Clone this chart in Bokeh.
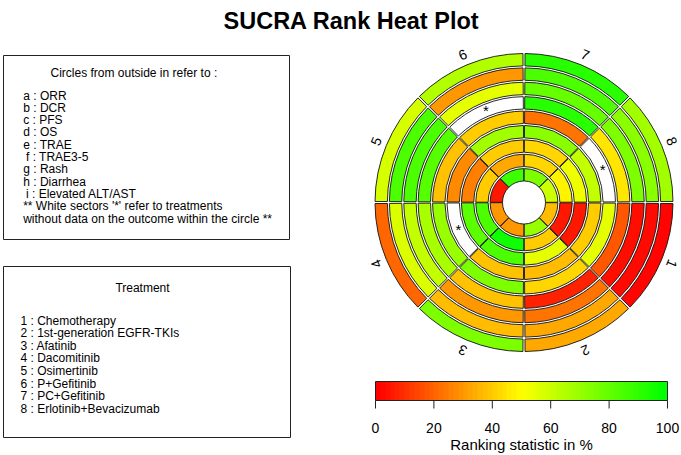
import numpy as np
from bokeh.plotting import figure
from bokeh.models import Range1d, LinearColorMapper, ColumnDataSource
from bokeh.core.properties import value
from bokeh.embed import file_html
from bokeh.resources import INLINE

nan = float("nan")

title_text = "SUCRA Rank Heat Plot"
treatment_ids = ["1", "2", "3", "4", "5", "6", "7", "8"]
treatment_names = ["Chemotherapy", "1st-generation EGFR-TKIs", "Afatinib", "Dacomitinib",
                   "Osimertinib", "P+Gefitinib", "PC+Gefitinib", "Erlotinib+Bevacizumab"]
outcome_letters = ["a", "b", "c", "d", "e", "f", "g", "h", "i"]
outcome_names = ["ORR", "DCR", "PFS", "OS", "TRAE", "TRAE3-5", "Rash", "Diarrhea", "Elevated ALT/AST"]

# SUCRA (%) for treatments 1..8 in each ring (a = outermost ... i = innermost); nan = no data
sucra_a = [1, 33, 75, 20, 58, 65, 92, 68]
sucra_b = [2, 33, 37, 57, 85, 30, 85, 73]
sucra_c = [3, 23, 30, 62, 85, 55, 80, 75]
sucra_d = [17, 7, 38, 67, 83, nan, 92, 45]
sucra_e = [55, 42, 75, 70, 38, 40, 23, nan]
sucra_f = [40, 37, 38, nan, 27, 68, 73, 62]
sucra_g = [5, 55, 85, 82, 25, 40, 42, 53]
sucra_h = [5, 40, 97, 85, 40, 33, 42, 48]
sucra_i = [37, 70, 30, 30, 5, 88, 75, 60]
rings = [sucra_a, sucra_b, sucra_c, sucra_d, sucra_e, sucra_f, sucra_g, sucra_h, sucra_i]

colorbar_ticks = [0, 20, 40, 60, 80, 100]
colorbar_values = np.linspace(0, 100, 60)

# ---- palette red -> yellow -> green
def ramp(n):
    out = []
    for t in np.linspace(0, 1, n):
        if t <= 0.5:
            r, g, b = 255, int(round(255 * t / 0.5)), 0
        else:
            r, g, b = int(round(255 * (1 - t) / 0.5)), 255, 0
        out.append("#%02x%02x%02x" % (r, g, b))
    return out

pal = ramp(256)
mapper = LinearColorMapper(palette=pal, low=0, high=100, nan_color="white")

W, H = 681, 455
def Y(v):
    return H - v

FONT = value("Liberation Sans")

p = figure(width=W, height=H, x_range=Range1d(0, W), y_range=Range1d(0, H),
           output_backend="svg", toolbar_location=None, min_border=0)
p.axis.visible = False
p.grid.visible = False
p.outline_line_color = None
p.background_fill_color = "white"
p.border_fill_color = "white"

# ---- title
p.text(x=[351], y=[Y(20.5)], text=[title_text], text_font=FONT,
       text_font_style="bold", text_font_size=value("23.5px"), text_align="center",
       text_baseline="alphabetic", text_color="black")

# ---- legend boxes
p.quad(left=[3, 3], right=[289, 290], top=[Y(55), Y(266)], bottom=[Y(239), Y(437)],
       fill_color=None, line_color="#222222", line_width=1)

fs = value("12px")
p.text(x=[50], y=[Y(72.7)], text=["Circles from outside in refer to :"], text_font=FONT,
       text_font_size=fs, text_baseline="alphabetic", text_color="black")
lines1 = [f"{l} : {n}" for l, n in zip(outcome_letters, outcome_names)]
lines1 += ["** White sectors '*' refer to treatments", "without data on the outcome within the circle **"]
x1 = [25.5 if l in ("f", "i") else 22.7 for l in outcome_letters] + [22.7, 22.7]
p.text(x=x1, y=[Y(95 + 12.33 * k) for k in range(len(lines1))], text=lines1,
       text_font=FONT, text_font_size=fs, text_baseline="alphabetic", text_color="black")

p.text(x=[142], y=[Y(287.3)], text=["Treatment"], text_font=FONT, text_font_size=fs,
       text_align="center", text_baseline="alphabetic", text_color="black")
lines2 = [f"{i} : {n}" for i, n in zip(treatment_ids, treatment_names)]
p.text(x=[20] * len(lines2), y=[Y(320 + 12.6 * k) for k in range(len(lines2))], text=lines2,
       text_font=FONT, text_font_size=fs, text_baseline="alphabetic", text_color="black")

# ---- rank heat circle
cx, cy = 523.5, Y(202)
R_out, R_in = 150.0, 20.5
nring = len(rings)
w = (R_out - R_in) / nring
gap_r = 2.0
gap_a = np.deg2rad(0.4)
ns = len(treatment_ids)
sect = 2 * np.pi / ns

xs, ys, ir, orr, sa, ea, vals = [], [], [], [], [], [], []
star_x, star_y = [], []
for j, ring in enumerate(rings):
    ro = R_out - j * w - gap_r / 2
    ri = R_out - (j + 1) * w + gap_r / 2
    for k, v in enumerate(ring):
        s0 = -(k + 1) * sect + gap_a
        e0 = -k * sect - gap_a
        xs.append(cx); ys.append(cy); ir.append(ri); orr.append(ro)
        sa.append(s0); ea.append(e0); vals.append(v)
        if v != v:
            mid = -(k + 0.5) * sect
            rm = (ri + ro) / 2
            star_x.append(cx + rm * np.cos(mid)); star_y.append(cy + rm * np.sin(mid))

src = ColumnDataSource(dict(x=xs, y=ys, ir=ir, orr=orr, sa=sa, ea=ea, v=vals))
p.annular_wedge(x="x", y="y", inner_radius="ir", outer_radius="orr", start_angle="sa", end_angle="ea",
                source=src, fill_color={"field": "v", "transform": mapper}, line_color="#111111",
                line_width=0.9)

p.text(x=star_x, y=star_y, text=["*"] * len(star_x), text_font=FONT, text_font_size=value("15px"),
       text_align="center", text_baseline="middle", text_color="black")

# sector labels
lab_r = 160.0
mids = [-(k + 0.5) * sect for k in range(ns)]
p.text(x=[cx + lab_r * np.cos(m) for m in mids], y=[cy + lab_r * np.sin(m) for m in mids],
       text=treatment_ids, angle=[m - np.pi / 2 for m in mids], text_font=FONT,
       text_font_size=value("14px"), text_align="center", text_baseline="middle", text_color="black")

# ---- colour bar
bx0, bx1 = 375.0, 667.0
by_top, by_bot = Y(381), Y(400)
p.image(image=[colorbar_values[None, :]], x=bx0, y=by_bot, dw=bx1 - bx0, dh=by_top - by_bot,
        color_mapper=mapper)
p.quad(left=[bx0], right=[bx1], top=[by_top], bottom=[by_bot], fill_color=None,
       line_color="#222222", line_width=1)
tx = [bx0 + t / 100 * (bx1 - bx0) for t in colorbar_ticks]
p.segment(x0=tx, x1=tx, y0=[by_bot] * len(tx), y1=[Y(408)] * len(tx), line_color="#222222",
          line_width=1)
p.text(x=tx, y=[Y(427)] * len(tx), text=[str(t) for t in colorbar_ticks], text_font=FONT,
       text_font_size=value("14px"), text_align="center", text_baseline="middle", text_color="black")
p.text(x=[(bx0 + bx1) / 2], y=[Y(444)], text=["Ranking statistic in %"], text_font=FONT,
       text_font_size=value("15px"), text_align="center", text_baseline="middle", text_color="black")

open("out.html", "w").write(file_html(p, INLINE))
